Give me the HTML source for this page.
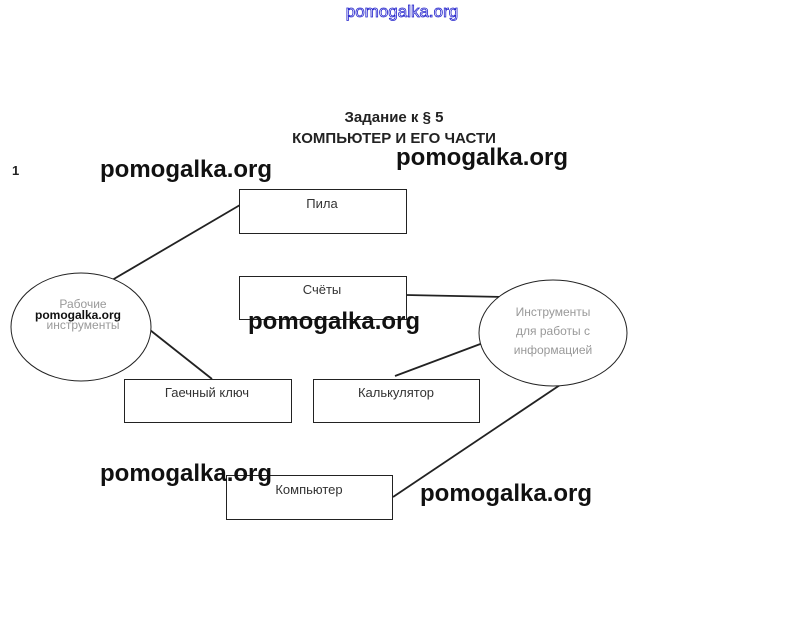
<!DOCTYPE html>
<html><head><meta charset="utf-8"><style>
html,body{margin:0;padding:0;background:#fff;}
body{width:802px;height:630px;overflow:hidden;position:relative;font-family:"Liberation Sans","DejaVu Sans",sans-serif;}
</style></head><body>
<svg width="802" height="630" xmlns="http://www.w3.org/2000/svg" style="position:absolute;left:0;top:0">
<g font-family="Liberation Sans, DejaVu Sans, sans-serif">
<text x="402" y="17" text-anchor="middle" font-size="17" fill="#fff" stroke="#2222cc" stroke-width="0.8">pomogalka.org</text>
<text x="394" y="122" text-anchor="middle" font-size="15" font-weight="bold" fill="#222">Задание к § 5</text>
<text x="394" y="143" text-anchor="middle" font-size="15" font-weight="bold" fill="#222">КОМПЬЮТЕР И ЕГО ЧАСТИ</text>
<text x="12" y="175" font-size="13" font-weight="bold" fill="#222">1</text>

<g stroke="#222" stroke-width="1.8" fill="none">
<line x1="107" y1="283" x2="240" y2="205"/>
<line x1="406" y1="295" x2="505" y2="297"/>
<line x1="150" y1="330" x2="212" y2="379"/>
<line x1="395" y1="376" x2="483" y2="343"/>
<line x1="393" y1="497" x2="560" y2="385"/>
</g>
<g stroke="#222" stroke-width="1" fill="#fff">
<rect x="239.5" y="189.5" width="167" height="44"/>
<rect x="239.5" y="276.5" width="167" height="43"/>
<rect x="124.5" y="379.5" width="167" height="43"/>
<rect x="313.5" y="379.5" width="166" height="43"/>
<rect x="226.5" y="475.5" width="166" height="44"/>
<ellipse cx="81" cy="327" rx="70" ry="54"/>
<ellipse cx="553" cy="333" rx="74" ry="53"/>
</g>
<g font-size="13" fill="#333" text-anchor="middle">
<text x="322" y="208">Пила</text>
<text x="322" y="294">Счёты</text>
<text x="207" y="397">Гаечный ключ</text>
<text x="396" y="397">Калькулятор</text>
<text x="309" y="494">Компьютер</text>
</g>
<g font-size="12" fill="#999" text-anchor="middle">
<text x="83" y="308">Рабочие</text>
<text x="83" y="329">инструменты</text>
<text x="553" y="316">Инструменты</text>
<text x="553" y="335">для работы с</text>
<text x="553" y="354">информацией</text>
</g>
<text x="78" y="319" text-anchor="middle" font-size="12" font-weight="bold" fill="#111">pomogalka.org</text>
<g font-size="24" font-weight="bold" fill="#111">
<text x="100" y="177">pomogalka.org</text>
<text x="396" y="165">pomogalka.org</text>
<text x="248" y="329">pomogalka.org</text>
<text x="100" y="481">pomogalka.org</text>
<text x="420" y="501">pomogalka.org</text>
</g>
</g>
</svg>
</body></html>
